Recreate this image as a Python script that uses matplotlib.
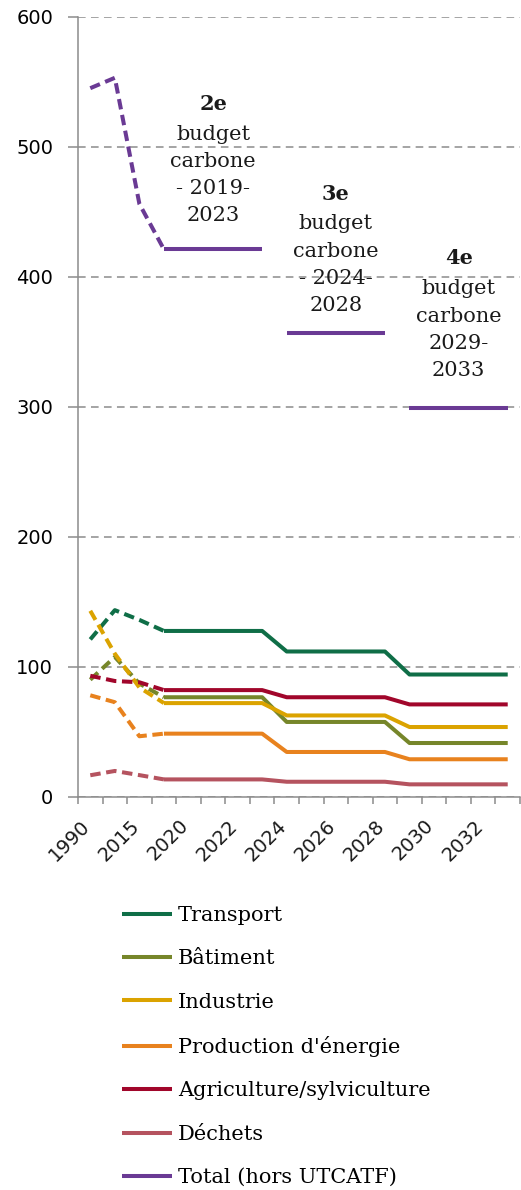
import numpy as np
import matplotlib
matplotlib.use("Agg")
import matplotlib.pyplot as plt
import matplotlib.transforms as mtransforms

# categories (only every other one gets a label)
years = ['1990', '2005', '2015', '2019', '2020', '2021', '2022', '2023', '2024',
         '2025', '2026', '2027', '2028', '2029', '2030', '2031', '2032', '2033']
n_hist = 4  # 1990..2019 drawn dashed

transport = [121, 143.5, 136, 127.5, 127.5, 127.5, 127.5, 127.5, 111.7,
             111.7, 111.7, 111.7, 111.7, 94, 94, 94, 94, 94]
batiment = [90, 107.5, 87, 76.5, 76.5, 76.5, 76.5, 76.5, 57.5,
            57.5, 57.5, 57.5, 57.5, 41.3, 41.3, 41.3, 41.3, 41.3]
industrie = [143, 110, 84, 72, 72, 72, 72, 72, 62.5,
             62.5, 62.5, 62.5, 62.5, 53.6, 53.6, 53.6, 53.6, 53.6]
production = [78, 72.7, 46.5, 48.5, 48.5, 48.5, 48.5, 48.5, 34.4,
              34.4, 34.4, 34.4, 34.4, 28.8, 28.8, 28.8, 28.8, 28.8]
agriculture = [93, 89, 88, 82, 82, 82, 82, 82, 76.5,
               76.5, 76.5, 76.5, 76.5, 71, 71, 71, 71, 71]
dechets = [16.5, 19.8, 16.6, 13.3, 13.3, 13.3, 13.3, 13.3, 11.5,
           11.5, 11.5, 11.5, 11.5, 9.5, 9.5, 9.5, 9.5, 9.5]

total_hist = [545, 553, 456, 421]
total_budgets = [421, 357, 299]
budget_first = ['2019', '2024', '2029']
budget_last = ['2023', '2028', '2033']
budget_names = ['2e', '3e', '4e']
budget_texts = ['budget\ncarbone\n- 2019-\n2023',
                'budget\ncarbone\n- 2024-\n2028',
                'budget\ncarbone\n2029-\n2033']

series = [('Transport', transport, '#0f6e47'),
          ('Bâtiment', batiment, '#76862a'),
          ('Industrie', industrie, '#dba300'),
          ('Production d\'énergie', production, '#e8821e'),
          ('Agriculture/sylviculture', agriculture, '#a1062b'),
          ('Déchets', dechets, '#b5535f')]
total_color = '#6a3a94'

fig = plt.figure(figsize=(5.21, 11.9), dpi=100)
ax = fig.add_axes([78 / 521, 1 - 796.7 / 1190, 442 / 521, (796.7 - 16.7) / 1190])

x = np.arange(len(years))
lw = 2.9
dash = (0, (2.6, 1.4))

for name, vals, col in series:
    ax.plot(x[:n_hist], vals[:n_hist], color=col, lw=lw, linestyle=dash)
    ax.plot(x[n_hist - 1:], vals[n_hist - 1:], color=col, lw=lw, solid_capstyle='butt', label=name)

ax.plot(x[:n_hist], total_hist, color=total_color, lw=lw, linestyle=dash)
for i, v in enumerate(total_budgets):
    s, e = years.index(budget_first[i]), years.index(budget_last[i])
    ax.plot([s, e], [v, v], color=total_color, lw=lw, solid_capstyle='butt',
            label='Total (hors UTCATF)' if i == 0 else None)

# budget annotations
head_y = [533, 464, 414]
for i in range(3):
    s, e = years.index(budget_first[i]), years.index(budget_last[i])
    xc = (s + e) / 2
    ax.text(xc, head_y[i], budget_names[i], ha='center', va='center',
            fontsize=15, fontweight='bold', family='DejaVu Serif', color='#1a1a1a')
    ax.text(xc, head_y[i] - 16, budget_texts[i], ha='center', va='top',
            fontsize=15, family='DejaVu Serif', color='#1a1a1a', linespacing=1.55)

ax.set_xlim(-0.5, len(years) - 0.5)
ax.set_ylim(0, 600)
ax.set_yticks(np.arange(0, 601, 100))
ax.yaxis.grid(True, color='#8c8c8c', linestyle=(0, (5, 3.5)), lw=1.1)
ax.set_axisbelow(True)
ax.tick_params(axis='y', length=7, width=1.1, color='#8c8c8c', labelsize=14, pad=11)

# ticks at category boundaries, labels at every other category centre
ax.set_xticks(np.arange(-0.5, len(years)), [])
ax.tick_params(axis='x', length=5, width=1.1, color='#8c8c8c', direction='out')
lab_tr = mtransforms.offset_copy(ax.get_xaxis_transform(), fig=fig, x=-3, y=-26, units='dots')
for xi, yr in zip(x[::2], years[::2]):
    ax.text(xi, 0, yr, transform=lab_tr, rotation=45, rotation_mode='anchor',
            ha='right', va='center', fontsize=14, color='#1a1a1a')

for sp in ['top', 'right']:
    ax.spines[sp].set_visible(False)
for sp in ['left', 'bottom']:
    ax.spines[sp].set_color('#8c8c8c')
    ax.spines[sp].set_linewidth(1.1)

handles, labels = ax.get_legend_handles_labels()
fig.legend(handles, labels, loc='upper left', bbox_to_anchor=(122 / 521, 1 - 906 / 1190),
           frameon=False, borderpad=0, borderaxespad=0, handlelength=2.4,
           handletextpad=0.3, labelspacing=1.17, prop={'family': 'DejaVu Serif', 'size': 15})

fig.savefig('out.png', dpi=100)
